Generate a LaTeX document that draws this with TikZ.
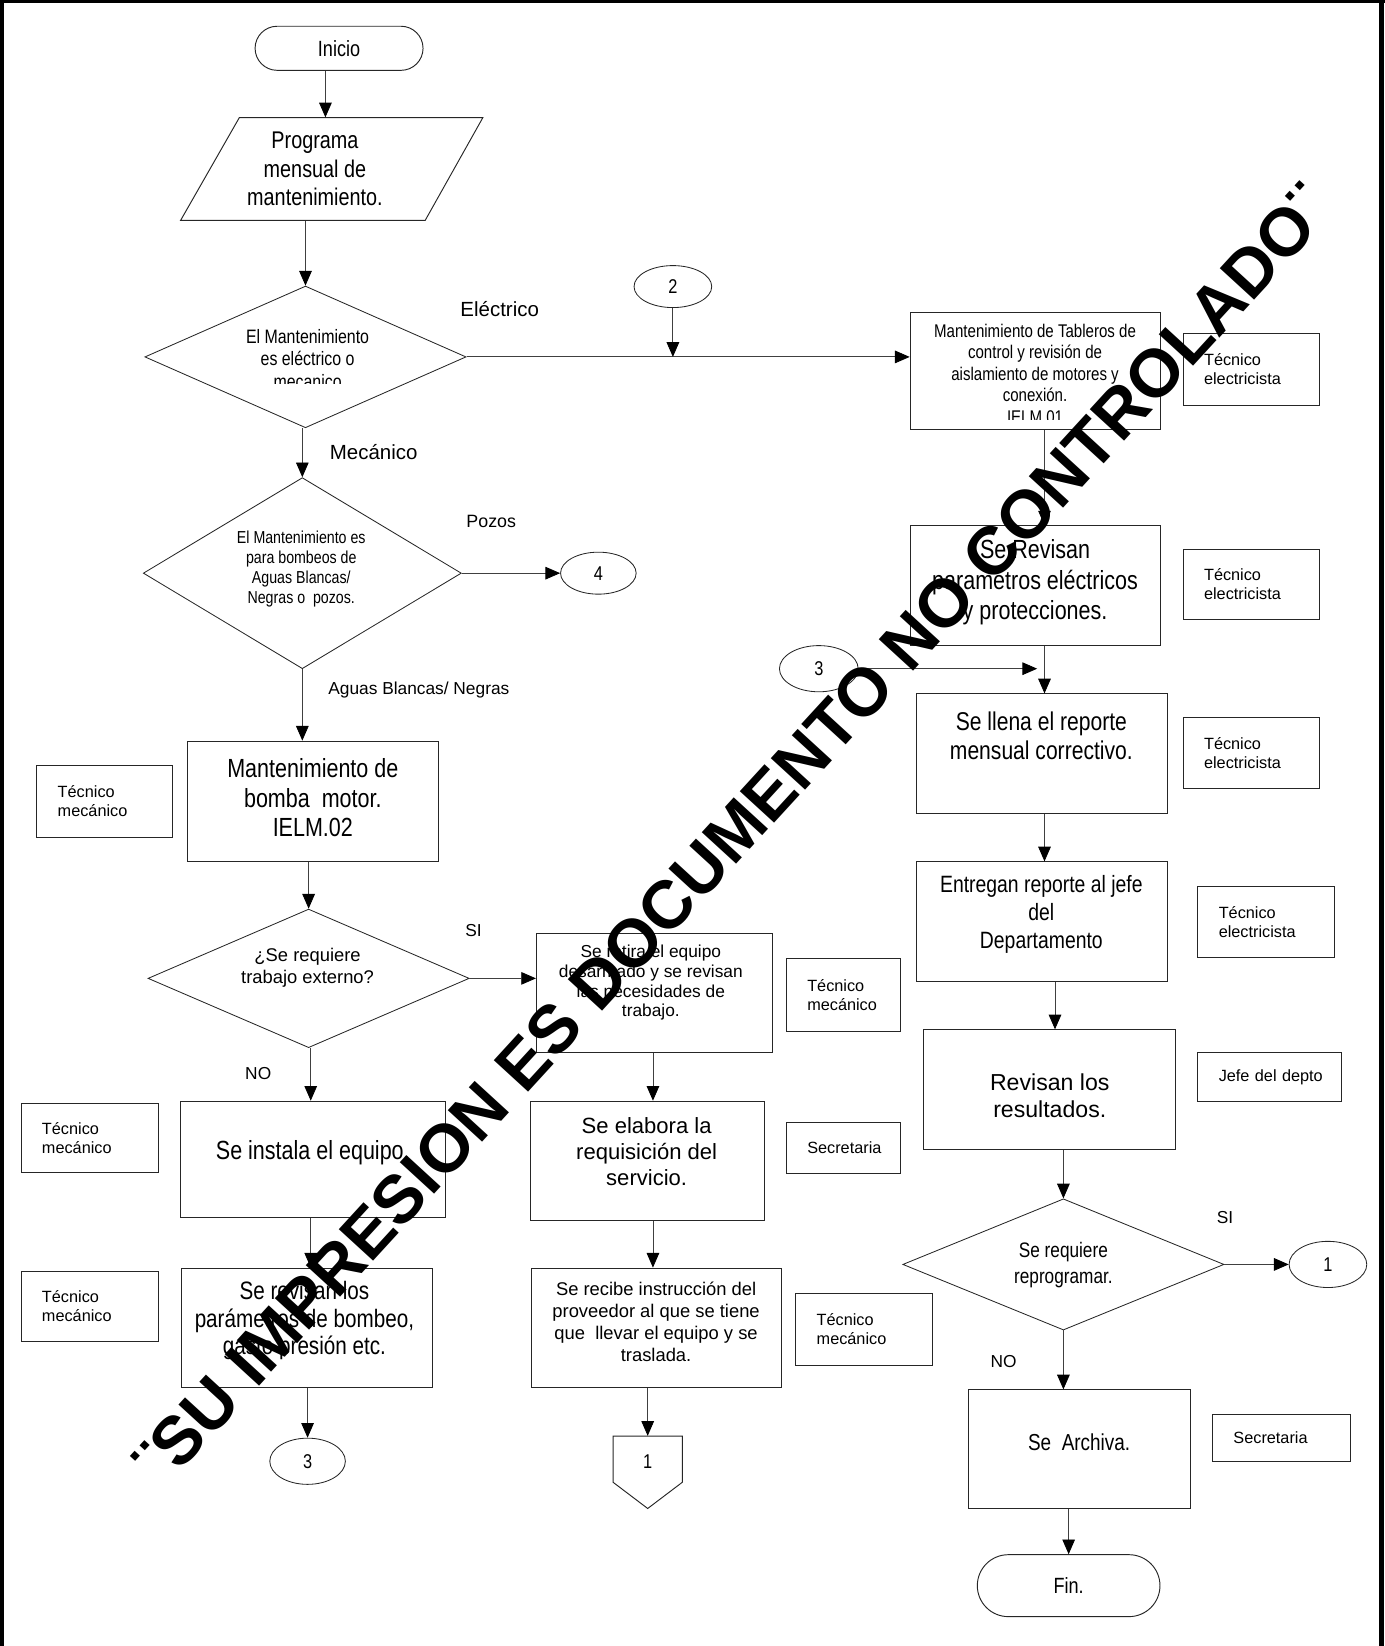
\documentclass[tikz,border=0pt]{standalone}
\usepackage{graphicx}
\usepackage{fontspec}
\setmainfont{Liberation Sans}
\newfontfamily\narrowfont[FakeStretch=0.82]{Liberation Sans}
\usetikzlibrary{arrows.meta,shapes.geometric,shapes.misc,calc}
\newcommand{\fsz}[2]{\fontsize{#1pt}{#2pt}\selectfont}
\begin{document}
\begin{tikzpicture}[x=1pt,y=-1pt,
  ln/.style={draw=black!85,line width=0.9pt},
  box/.style={draw=black!85,line width=0.9pt,inner sep=0pt,align=center},
  role/.style={draw=black!85,line width=0.9pt,inner xsep=20pt,inner ysep=0pt,align=left,font=\fsz{15.5}{18}},
  arr/.style={draw=black!75,line width=0.8pt,-{Triangle[length=14pt,width=12pt,color=black]}},
  lbl/.style={inner sep=0pt},
  txt/.style={inner sep=0pt,align=center},
  conn/.style={draw=black!85,line width=0.8pt,ellipse,inner sep=0pt,font=\narrowfont\fsz{19}{22}},
  dia/.style={draw=black!85,line width=0.8pt,diamond,inner sep=0pt},
]
\useasboundingbox (0,0) rectangle (1319,1568);
% frame
\draw[line width=3pt] (0,1.5) -- (1319,1.5);
\draw[line width=3.5pt] (2,0) -- (2,1568);
\draw[line width=5.5pt] (1316,0) -- (1316,1568);

% ---------- left / main column ----------
\node[box,rounded rectangle,minimum width=160pt,minimum height=42pt,font=\narrowfont\fsz{21}{24}] (inicio) at (323,46) {Inicio};
\draw[ln] (228,112) -- (460,112) -- (405,210) -- (172,210) -- cycle;
\node[txt,minimum height=98pt,font=\narrowfont\fsz{23}{27}] (prog) at (300,161) {Programa\\mensual de\\mantenimiento.};

\node[dia,minimum width=306pt,minimum height=135pt] (d1) at (291,340) {};
\begin{scope}
\clip (180,300) rectangle (400,365);
\node[txt,font=\narrowfont\fsz{18.5}{21}] (d1t) at (293,342) {El Mantenimiento\\es eléctrico o\\mecanico};
\end{scope}
\node[lbl,font=\fsz{19.5}{22}] (elec) at (476,294) {Eléctrico};
\node[lbl,font=\fsz{19.5}{22}] (mec) at (356,431) {Mecánico};

\node[dia,minimum width=303pt,minimum height=182pt] (d2) at (288,546) {};
\node[txt,font=\narrowfont\fsz{16.5}{19}] (d2t) at (287,542) {El Mantenimiento es\\para bombeos de\\Aguas Blancas/\\Negras o~ pozos.};
\node[lbl,font=\fsz{17}{19}] (pozos) at (468,497) {Pozos};
\node[conn,minimum width=72pt,minimum height=40pt] (c4) at (570,546) {4};
\node[lbl,font=\fsz{16.5}{19}] (ab) at (399,657) {Aguas Blancas/ Negras};

\node[box,minimum width=239pt,minimum height=115pt] (b40) at (298.5,763.5) {};
\node[txt,font=\narrowfont\fsz{25}{28}] (b40t) at (298,760) {Mantenimiento de\\bomba~ motor.\\IELM.02};
\node[role,minimum width=129pt,text width=89pt,minimum height=69pt] (r41) at (99.5,763.5) {Técnico\\mecánico};

\node[dia,minimum width=306pt,minimum height=132pt] (d3) at (294,932) {};
\node[txt,font=\fsz{17.5}{21}] (d3t) at (293,922) {¿Se requiere\\trabajo externo?};
\node[lbl,font=\fsz{16.5}{19}] (si1) at (451,886) {SI};
\node[lbl,font=\fsz{16.5}{19}] (no1) at (246,1023) {NO};

\node[box,minimum width=252pt,minimum height=111pt] (b50) at (298,1104.5) {};
\node[txt,font=\narrowfont\fsz{25}{28}] (b50t) at (298,1098) {Se instala el equipo.};
\node[role,minimum width=131pt,text width=91pt,minimum height=66pt] (r51) at (85.5,1084) {Técnico\\mecánico};

\node[box,minimum width=239pt,minimum height=114pt] (b53) at (292.5,1265) {};
\node[txt,font=\narrowfont\fsz{24}{26.5}] (b53t) at (290,1258) {Se revisan los\\parámetros de bombeo,\\gasto presión etc.};
\node[role,minimum width=131pt,text width=91pt,minimum height=67pt] (r54) at (85.5,1244.5) {Técnico\\mecánico};
\node[conn,minimum width=72pt,minimum height=44pt] (c3b) at (293,1392) {3};

% ---------- middle column ----------
\node[conn,minimum width=74pt,minimum height=40pt] (c2) at (641,273) {2};
\node[box,minimum width=225pt,minimum height=114pt] (b46) at (623.5,946) {};
\node[txt,font=\fsz{16.5}{19}] (b46t) at (620,936) {Se retira el equipo\\desarmado y se revisan\\las necesidades de\\trabajo.};
\node[role,minimum width=109pt,text width=69pt,minimum height=70pt] (r47) at (803.5,948) {Técnico\\mecánico};

\node[box,minimum width=223pt,minimum height=114pt] (b58) at (616.5,1106) {};
\node[txt,font=\fsz{21}{25}] (b58t) at (616,1097) {Se elabora la\\requisición del\\servicio.};
\node[role,minimum width=109pt,text width=69pt,minimum height=49pt] (r59) at (803.5,1093.5) {\mbox{Secretaria}};

\node[box,minimum width=238pt,minimum height=114pt] (b61) at (625,1265) {};
\node[txt,font=\fsz{17.5}{21}] (b61t) at (625,1259) {Se recibe instrucción del\\proveedor al que se tiene\\que~ llevar el equipo y se\\traslada.};
\node[role,minimum width=130pt,text width=90pt,minimum height=69pt] (r62) at (823,1266.5) {Técnico\\mecánico};

\draw[ln] (584,1368) -- (650,1368) -- (650,1412) -- (617,1437) -- (584,1412) -- cycle;
\node[txt,minimum height=48pt,font=\narrowfont\fsz{19}{22}] (off1) at (617,1392) {1};

% ---------- right column ----------
\node[box,minimum width=238pt,minimum height=111pt] (b9) at (986,353.5) {};
\begin{scope}
\clip (868,299) rectangle (1104,399.5);
\node[txt,font=\narrowfont\fsz{17.5}{20.5}] (b9t) at (986,356) {Mantenimiento de Tableros de\\control y revisión de\\aislamiento de motores y\\conexión.\\IELM.01};
\end{scope}
\node[role,minimum width=130pt,text width=90pt,minimum height=68pt] (r9) at (1192,352) {Técnico\\electricista};

\node[box,minimum width=238pt,minimum height=114pt] (b12) at (986,558) {};
\node[txt,font=\narrowfont\fsz{25}{29}] (b12t) at (986,555) {Se Revisan\\parametros eléctricos\\y protecciones.};
\node[role,minimum width=130pt,text width=90pt,minimum height=67pt] (r12) at (1192,556.5) {Técnico\\electricista};

\node[conn,minimum width=75pt,minimum height=44pt] (c3a) at (780,637) {3};
\coordinate (c3end) at (988,637);

\node[box,minimum width=239pt,minimum height=114pt] (b16) at (992.5,718) {};
\node[txt,font=\narrowfont\fsz{24.5}{28}] (b16t) at (992,701) {Se llena el reporte\\mensual correctivo.};
\node[role,minimum width=130pt,text width=90pt,minimum height=68pt] (r17) at (1192,717) {Técnico\\electricista};

\node[box,minimum width=239pt,minimum height=114pt] (b19) at (992.5,878) {};
\node[txt,font=\narrowfont\fsz{22.5}{26.5}] (b19t) at (992,871) {Entregan reporte al jefe\\del\\Departamento};
\node[role,minimum width=130pt,text width=90pt,minimum height=68pt] (r20) at (1206,878) {Técnico\\electricista};

\node[box,minimum width=240pt,minimum height=114pt] (b22) at (1000,1038) {};
\node[txt,font=\fsz{22}{26}] (b22t) at (1000,1044) {Revisan los\\resultados.};
\node[role,minimum width=137pt,text width=97pt,minimum height=46pt] (r23) at (1209.5,1026) {\mbox{Jefe del depto}};

\node[dia,minimum width=306pt,minimum height=125pt] (d25) at (1013,1204.5) {};
\node[txt,font=\narrowfont\fsz{20}{25}] (d25t) at (1013,1205) {Se requiere\\reprogramar.};
\node[lbl,font=\fsz{16.5}{19}] (si2) at (1167,1160) {SI};
\node[lbl,font=\fsz{16.5}{19}] (no2) at (956,1297) {NO};
\node[conn,minimum width=74pt,minimum height=44pt] (c1) at (1265,1204.5) {1};

\node[box,minimum width=211pt,minimum height=113pt] (b30) at (1028.5,1380.5) {};
\node[txt,font=\narrowfont\fsz{22}{26}] (b30t) at (1028,1374) {Se~ Archiva.};
\node[role,minimum width=131pt,text width=91pt,minimum height=45pt] (r31) at (1220.5,1369.5) {\mbox{Secretaria}};

\node[box,rounded rectangle,minimum width=174pt,minimum height=59pt,font=\narrowfont\fsz{21}{24}] (fin) at (1018,1510.5) {Fin.};

% ---------- connectors ----------
\draw[arr] ([xshift=-13pt]inicio.south) -- ([xshift=-13pt]inicio.south |- prog.north);
\draw[arr] (prog.south -| d1.north) -- (d1.north);
\draw[arr] (d1.east) -- (d1.east -| b9.west);
\draw[arr] (c2.south) -- (c2.south |- d1.east);
\draw[arr] (d1.south -| d2.north) -- (d2.north);
\draw[arr] (d2.east) -- (c4.west);
\draw[arr] (d2.south) -- (d2.south |- b40.north);
\draw[arr] (b40.south -| d3.north) -- (d3.north);
\draw[arr] (d3.east) -- (d3.east -| b46.west);
\draw[arr] ([xshift=2pt]d3.south) -- ([xshift=2pt]d3.south |- b50.north);
\draw[arr] ([xshift=-2pt]b50.south) -- ([xshift=-2pt]b50.south |- b53.north);
\draw[arr] (b53.south -| c3b.north) -- (c3b.north);
\draw[arr] ([xshift=-1.5pt]b46.south) -- ([xshift=-1.5pt]b46.south |- b58.north);
\draw[arr] ([xshift=5.5pt]b58.south) -- ([xshift=5.5pt]b58.south |- b61.north);
\draw[arr] (b61.south -| off1.north) -- (off1.north);
\draw[arr] ([xshift=9pt]b9.south) -- ([xshift=9pt]b12.north);
\draw[arr] ([xshift=9pt]b12.south) -- ([xshift=9pt]b12.south |- b16.north);
\draw[arr] (c3a.east) -- (c3end);
\draw[arr] ([xshift=2.5pt]b16.south) -- ([xshift=2.5pt]b16.south |- b19.north);
\draw[arr] ([xshift=12.5pt]b19.south) -- ([xshift=12.5pt]b19.south |- b22.north);
\draw[arr] (b22.south -| d25.north) -- (d25.north);
\draw[arr] (d25.east) -- (c1.west);
\draw[arr] (d25.south) -- (d25.south |- b30.north);
\draw[arr] (b30.south -| fin.north) -- (fin.north);

% ---------- watermark ----------
\node[inner sep=0pt,rotate=47.5,font=\bfseries] (wm) at (698,795) {\resizebox{1650pt}{!}{¨SU IMPRESION ES DOCUMENTO NO CONTROLADO¨}};
\end{tikzpicture}
\end{document}
